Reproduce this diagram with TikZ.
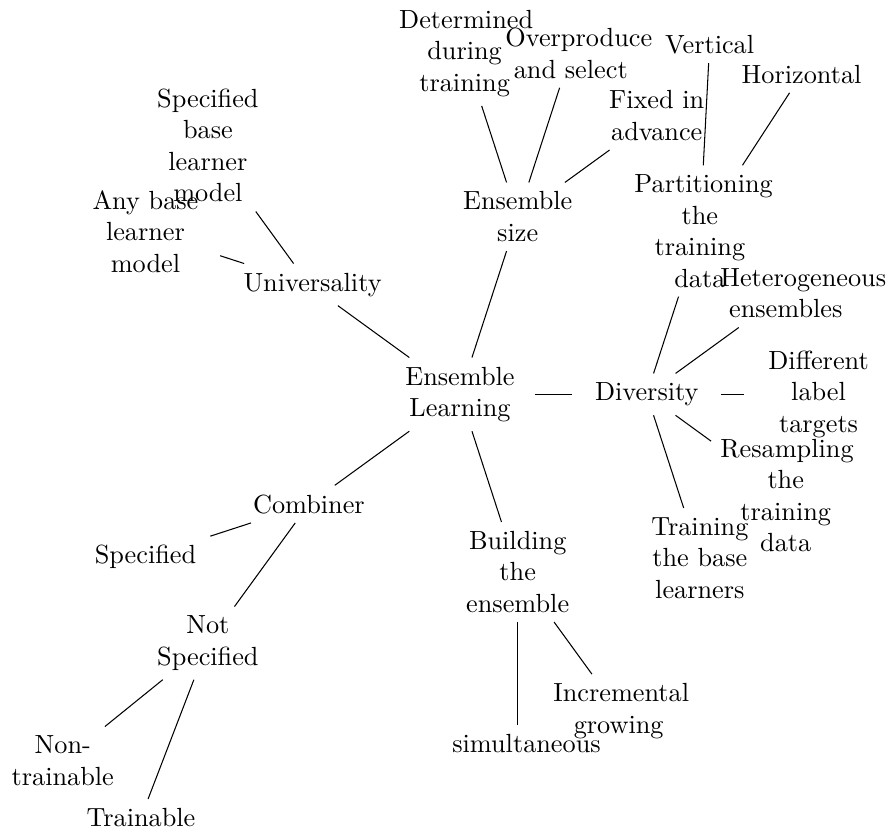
\documentclass[tikz,border=0pt]{standalone}
\usetikzlibrary{calc}
\tikzset{
  concept/.style={text width=1.75cm, align=flush center, inner sep=0.3333em},
  link/.style={draw=black, line width=0.4pt}
}
\begin{document}
\begin{tikzpicture}
\useasboundingbox (-175.2pt,-166.4pt) rectangle (163.4pt,150.2pt);
% level 1
\node[concept] (root) at (0,0) {Ensemble Learning};
\node[concept] (div) at (0:2.5cm) {Diversity};
\node[concept] (size) at (72:2.5cm) {Ensemble size};
\node[concept] (univ) at (144:2.5cm) {Universality};
\node[concept] (comb) at (216:2.5cm) {Combiner};
\node[concept] (build) at (288:2.5cm) {Building the ensemble};
% diversity children
\node[concept] (part) at ($(div)+(72:2.3cm)$) {Partitioning the training data};
\node[concept] (het) at ($(div)+(36:2.3cm)$) {Heterogeneous ensembles};
\node[concept] (diff) at ($(div)+(0:2.3cm)$) {Different label targets};
\node[concept] (resamp) at ($(div)+(-36:2.3cm)$) {Resampling the training data};
\node[concept] (trainb) at ($(div)+(-72:2.3cm)$) {Training the base learners};
% partitioning children
\node[concept] (vert) at ($(part)+(87:2.5cm)$) {Vertical};
\node[concept] (horiz) at ($(part)+(57:2.5cm)$) {Horizontal};
% size children
\node[concept] (det) at ($(size)+(108:2.3cm)$) {Determined during training};
\node[concept] (over) at ($(size)+(72:2.3cm)$) {Overproduce and select};
\node[concept] (fixed) at ($(size)+(36:2.3cm)$) {Fixed in advance};
% universality children
\node[concept] (specbase) at ($(univ)+(126:2.3cm)$) {Specified base learner model};
\node[concept] (anybase) at ($(univ)+(162:2.3cm)$) {Any base learner model};
% combiner children
\node[concept] (spec) at ($(comb)+(198:2.3cm)$) {Specified};
\node[concept] (notspec) at ($(comb)+(234:2.3cm)$) {Not Specified};
\node[concept] (nontrain) at ($(notspec)+(219:2.5cm)$) {Non-trainable};
\node[concept] (trainable) at ($(notspec)+(249:2.5cm)$) {Trainable};
% building children
\node[concept] (simul) at ($(build)+(270:2.3cm)$) {simultaneous};
\node[concept] (incr) at ($(build)+(306:2.3cm)$) {Incremental growing};
% connectors
\draw[link] (root) -- (div);
\draw[link] (root) -- (size);
\draw[link] (root) -- (univ);
\draw[link] (root) -- (comb);
\draw[link] (root) -- (build);
\draw[link] (div) -- (part);
\draw[link] (div) -- (het);
\draw[link] (div) -- (diff);
\draw[link] (div) -- (resamp);
\draw[link] (div) -- (trainb);
\draw[link] (part) -- (vert);
\draw[link] (part) -- (horiz);
\draw[link] (size) -- (det);
\draw[link] (size) -- (over);
\draw[link] (size) -- (fixed);
\draw[link] (univ) -- (specbase);
\draw[link] (univ) -- (anybase);
\draw[link] (comb) -- (spec);
\draw[link] (comb) -- (notspec);
\draw[link] (notspec) -- (nontrain);
\draw[link] (notspec) -- (trainable);
\draw[link] (build) -- (simul);
\draw[link] (build) -- (incr);
\end{tikzpicture}
\end{document}
